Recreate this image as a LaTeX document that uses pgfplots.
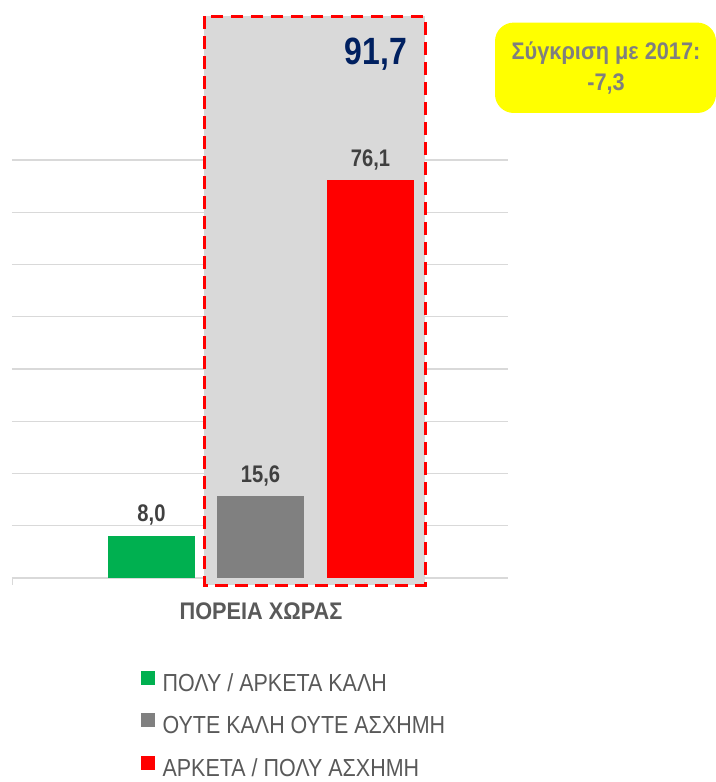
\documentclass[border=0pt]{standalone}
\usepackage{fontspec}
\setmainfont{Liberation Sans}[FakeStretch=0.87, BoldFeatures={FakeStretch=0.84}]
\newfontfamily\widebold{Liberation Sans Bold}[FakeStretch=0.905]
\usepackage{pgfplots}
\pgfplotsset{compat=1.18}
\definecolor{cgreen}{HTML}{00B050}
\definecolor{cgray}{HTML}{808080}
\definecolor{cred}{HTML}{FF0000}
\definecolor{cbg}{HTML}{D9D9D9}
\definecolor{cnavy}{HTML}{002060}
\definecolor{clab}{HTML}{404040}
\definecolor{cleg}{HTML}{595959}
\definecolor{cgrid}{HTML}{D9D9D9}
\definecolor{cyel}{HTML}{FFFF00}
\definecolor{cyt}{HTML}{7F7F7F}
\begin{document}
\begin{tikzpicture}
\useasboundingbox (0,0) rectangle (537pt,586.5pt);
\begin{axis}[
  at={(9pt,153pt)}, anchor=south west,
  scale only axis, width=372pt, height=313.5pt,
  xmin=12, xmax=508, ymin=0, ymax=80,
  clip=false,
  axis x line=bottom, axis y line=left,
  x axis line style={cgrid, line width=1.1pt, -},
  y axis line style={draw=none},
  xtick={261}, xticklabels={ΠΟΡΕΙΑ ΧΩΡΑΣ},
  major tick length=0pt,
  xticklabel style={font=\widebold\fontsize{18}{20}\selectfont, text=cleg, anchor=north, inner sep=0pt, yshift=-18pt},
  ytick={10,20,...,80}, yticklabels={},
  ymajorgrids, grid style={cgrid, line width=1.1pt},
  /pgf/number format/assume math mode=true,
  nodes near coords,
  nodes near coords style={font=\bfseries\fontsize{18}{20}\selectfont, text=clab, anchor=south, inner sep=0pt, text depth=0pt, yshift=10.5pt,
    /pgf/number format/.cd, fixed, fixed zerofill, precision=1, use comma},
  legend style={at={(axis cs:141,-17.75)}, anchor=north west, draw=none, fill=none, inner sep=0pt,
    font=\fontsize{18.5}{20}\selectfont, text=cleg, row sep=16.6pt, column sep=5.5pt,
    nodes={inner sep=0pt, text height=13.3pt, text depth=0pt}},
  legend cell align=left,
  legend image code/.code={\fill[#1,draw=none] (0pt,-1.9pt) rectangle (10.5pt,8.6pt);},
]
\fill[cbg] (axis cs:204,107.5) rectangle (axis cs:425,-1.35);
\addplot[ybar, bar shift=0pt, bar width=87, fill=cgreen, draw=none] coordinates {(151.5,8.0)};
\addlegendentry{ΠΟΛΥ / ΑΡΚΕΤΑ ΚΑΛΗ}
\addplot[ybar, bar shift=0pt, bar width=87, fill=cgray, draw=none] coordinates {(260.5,15.6)};
\addlegendentry{ΟΥΤΕ ΚΑΛΗ ΟΥΤΕ ΑΣΧΗΜΗ}
\addplot[ybar, bar shift=0pt, bar width=87, fill=cred, draw=none] coordinates {(370.5,76.1)};
\addlegendentry{ΑΡΚΕΤΑ / ΠΟΛΥ ΑΣΧΗΜΗ}
\draw[cred, line width=2.25pt, dash pattern=on 9.5pt off 5.5pt] (axis cs:204,107.5) rectangle (axis cs:425,-1.35);
\node[font=\bfseries\fontsize{28.5}{30}\selectfont, text=cnavy, anchor=base, inner sep=0pt] at (axis cs:376,98.2) {91,7};
\fill[cyel, rounded corners=14pt] (axis cs:495,106.3) rectangle (axis cs:716,89.0);
\node[font=\widebold\fontsize{18}{23}\selectfont, text=cyt, align=center, inner sep=0pt] at (axis cs:606,97.6) {Σύγκριση με 2017:\\-7,3};
\draw[cgrid, line width=1.1pt] (axis cs:12.5,0) -- (axis cs:12.5,-1.4);
\end{axis}
\end{tikzpicture}
\end{document}
